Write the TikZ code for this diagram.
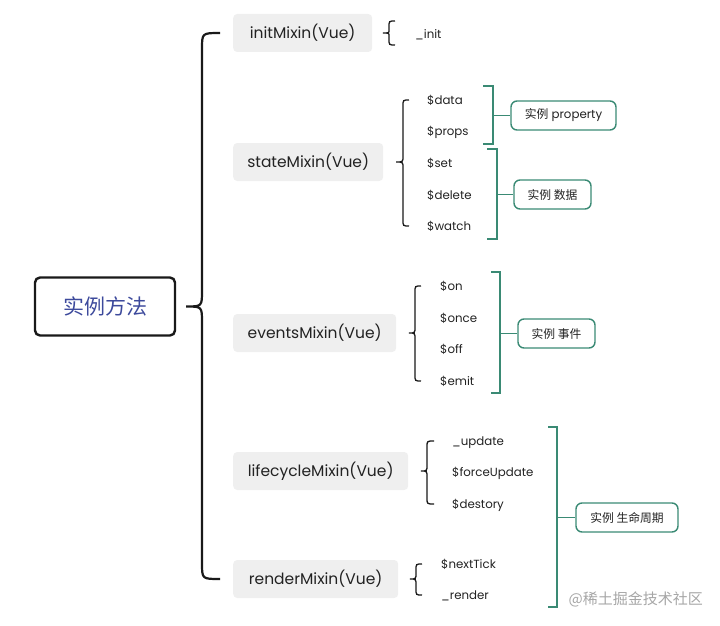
\documentclass[tikz,border=0pt]{standalone}
\usepackage{fontspec}
\setmainfont{Poppins}
\newfontfamily\cjk{Noto Sans CJK SC}
\usetikzlibrary{calc}
\definecolor{tealg}{HTML}{3A8A74}
\definecolor{rootblue}{HTML}{3D4A9C}
\definecolor{boxgray}{HTML}{EFEFEF}
\definecolor{txt}{HTML}{222222}
\tikzset{
  rootbox/.style={draw=black!90, line width=2.4pt, rounded corners=5pt, minimum width=140pt, minimum height=58pt, font=\cjk\fontsize{21}{23}\selectfont, text=rootblue},
  mixbox/.style={fill=boxgray, rounded corners=4pt, minimum height=38pt, anchor=west, font=\fontsize{15.5}{17}\selectfont, text=txt},
  item/.style={anchor=west, inner sep=0pt, text height=8.5pt, text depth=0pt, font=\fontsize{11.8}{13}\selectfont, text=txt},
  tagbox/.style={draw=tealg, line width=1.4pt, rounded corners=6pt, minimum height=29pt, font=\fontsize{11.8}{13}\selectfont, text=txt},
  bigbrace/.style={draw=black!90, line width=2.2pt},
  smallbrace/.style={draw=black!90, line width=1.3pt},
  bracket/.style={draw=tealg, line width=1.4pt},
}
% brace: #1 style, #2 tip x, #3 vertical x, #4 end x, #5 top node, #6 parent node, #7 bottom node, #8 radius
\newcommand\cbr[8]{\draw[#1] let \p1=(#5), \p2=(#6), \p3=(#7) in
  (#4pt,\y1) .. controls (#3pt,\y1) .. (#3pt,\y1-#8pt) -- (#3pt,\y2+#8pt)
  .. controls (#3pt,\y2) .. (#2pt,\y2) .. controls (#3pt,\y2) .. (#3pt,\y2-#8pt)
  -- (#3pt,\y3+#8pt) .. controls (#3pt,\y3) .. (#4pt,\y3);}
% bracket: #1 left x, #2 vertical x, #3 mid end x, #4 top y, #5 bottom y, #6 tag node
\newcommand\gbr[6]{\draw[bracket] let \p1=(#6.west) in
  (#1,#4) -- (#2,#4) -- (#2,#5) -- (#1,#5)
  (#2pt,\y1) -- (#3pt,\y1);
  \draw[bracket] let \p1=(#6.west) in (#3pt,\y1) -- (#6.west);}
\begin{document}
\begin{tikzpicture}[x=1pt,y=-1pt]
\useasboundingbox (0,0) rectangle (720,626);
\node[rootbox] (root) at (105,306.5) {实例方法};

\node[mixbox, minimum width=139pt] (init) at (233,33) {initMixin(Vue)};
\node[mixbox, minimum width=150pt] (state) at (233,162) {stateMixin(Vue)};
\node[mixbox, minimum width=163pt] (events) at (233,333) {eventsMixin(Vue)};
\node[mixbox, minimum width=175pt] (life) at (233,471) {lifecycleMixin(Vue)};
\node[mixbox, minimum width=165pt] (render) at (233,579) {renderMixin(Vue)};

\cbr{bigbrace}{186}{202}{220}{init.west}{root.east}{render.west}{16}

% init
\node[item] (i1) at (415,34) {\_init};
\draw[smallbrace] let \p1=(init.east) in (395pt,\y1+12pt) .. controls (389pt,\y1+12pt) .. (389pt,\y1+6pt) -- (389pt,\y1+3pt) .. controls (389pt,\y1) .. (383pt,\y1) .. controls (389pt,\y1) .. (389pt,\y1-3pt) -- (389pt,\y1-6pt) .. controls (389pt,\y1-12pt) .. (395pt,\y1-12pt);

% state
\node[item] (s1) at (427,100) {\$data};
\node[item] (s2) at (427,131) {\$props};
\node[item] (s3) at (427,163) {\$set};
\node[item] (s4) at (427,195) {\$delete};
\node[item] (s5) at (427,226) {\$watch};
\cbr{smallbrace}{396}{403}{409}{s1.west}{state.east}{s5.west}{6}

\node[tagbox, minimum width=105pt] (t1) at (563.5,115.5) {{\cjk 实例} property};
\node[tagbox, minimum width=77pt] (t2) at (552.5,194.5) {\cjk 实例 数据};
\gbr{483}{493}{502}{86}{144}{t1}
\gbr{487}{497}{505}{149}{239}{t2}

% events
\node[item] (e1) at (440,286) {\$on};
\node[item] (e2) at (440,318) {\$once};
\node[item] (e3) at (440,349) {\$off};
\node[item] (e4) at (440,381) {\$emit};
\cbr{smallbrace}{409}{415}{421}{e1.west}{events.east}{e4.west}{6}
\node[tagbox, minimum width=77pt] (t3) at (556.5,333.5) {\cjk 实例 事件};
\gbr{491}{500}{509}{272}{393}{t3}

% lifecycle
\node[item] (l1) at (452,441) {\_update};
\node[item] (l2) at (452,472) {\$forceUpdate};
\node[item] (l3) at (452,504) {\$destory};
\cbr{smallbrace}{421}{427}{434}{l1.west}{life.east}{l3.west}{6}

% render
\node[item] (r1) at (441,564) {\$nextTick};
\node[item] (r2) at (441,595) {\_render};
\cbr{smallbrace}{410}{416}{422}{r1.west}{render.east}{r2.west}{6}

\node[tagbox, minimum width=102pt] (t4) at (627,517.5) {\cjk 实例 生命周期};
\gbr{548}{557}{566}{427}{607}{t4}

\node[anchor=east, inner sep=0pt, text=black!35, font=\cjk\fontsize{15}{17}\selectfont] (wm) at (703,599) {@稀土掘金技术社区};
\end{tikzpicture}
\end{document}
